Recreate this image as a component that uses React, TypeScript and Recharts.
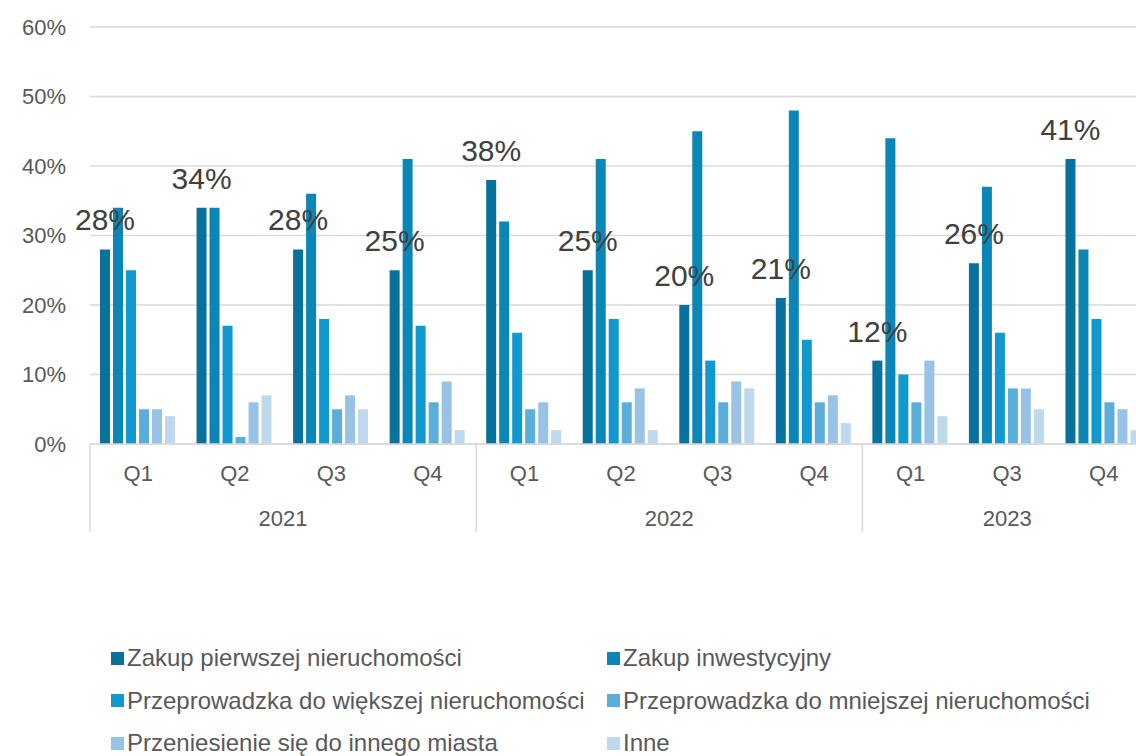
import { BarChart, Bar, XAxis, YAxis, CartesianGrid, LabelList } from "recharts";

const quarters = ["Q1", "Q2", "Q3", "Q4", "Q1", "Q2", "Q3", "Q4", "Q1", "Q3", "Q4"];
const years = ["2021", "2021", "2021", "2021", "2022", "2022", "2022", "2022", "2023", "2023", "2023"];

const seriesNames = [
    "Zakup pierwszej nieruchomości",
    "Zakup inwestycyjny",
    "Przeprowadzka do większej nieruchomości",
    "Przeprowadzka do mniejszej nieruchomości",
    "Przeniesienie się do innego miasta",
    "Inne",
];
const firstHome = [28, 34, 28, 25, 38, 25, 20, 21, 12, 26, 41];
const investment = [34, 34, 36, 41, 32, 41, 45, 48, 44, 37, 28];
const bigger = [25, 17, 18, 17, 16, 18, 12, 15, 10, 16, 18];
const smaller = [5, 1, 5, 6, 5, 6, 6, 6, 6, 8, 6];
const otherCity = [5, 6, 7, 9, 6, 8, 9, 7, 12, 8, 5];
const other = [4, 7, 5, 2, 2, 2, 8, 3, 4, 5, 2];
const yTicks = [0, 10, 20, 30, 40, 50, 60];

const COLORS = ["#09729c", "#0c86b6", "#1199cf", "#5badda", "#99c3e4", "#bed8ec"];
const KEYS = ["s1", "s2", "s3", "s4", "s5", "s6"];

const data = quarters.map((q, i) => ({
    i,
    q,
    year: years[i],
    s1: firstHome[i],
    s2: investment[i],
    s3: bigger[i],
    s4: smaller[i],
    s5: otherCity[i],
    s6: other[i],
}));

const FONT = "'Liberation Sans', Arial, sans-serif";
const CHART_W = 1162;
const LEFT = 90;
const RIGHT_M = 10;
const BAND = (CHART_W - LEFT - RIGHT_M) / quarters.length;
const PLOT_BOTTOM = 444;

function YearTick(props: any) {
    const { x, payload } = props;
    const i = Number(payload.value);
    if (i > 0 && years[i] === years[i - 1]) return null;
    let end = i;
    while (end + 1 < years.length && years[end + 1] === years[i]) end++;
    const centerX = x + ((i + end) / 2 - i) * BAND;
    const lineX = x - BAND / 2;
    return (
        <g>
            <line x1={lineX} x2={lineX} y1={PLOT_BOTTOM} y2={532} stroke="#d9d9d9" strokeWidth={1.5} />
            <text x={centerX} y={526} textAnchor="middle" fill="#595959" fontSize={22} fontFamily={FONT}>
                {years[i]}
            </text>
        </g>
    );
}

export default function App() {
    return (
        <div style={{ position: "fixed", left: 0, top: 0, width: 1136, height: 756, overflow: "hidden", background: "#fff" }}>
            <BarChart
                width={CHART_W}
                height={756}
                data={data}
                margin={{ top: 27, right: RIGHT_M, bottom: 224, left: 0 }}
                barCategoryGap={10}
                barGap={3}
            >
                <CartesianGrid vertical={false} stroke="#d9d9d9" strokeWidth={1.5} />
                <YAxis
                    width={LEFT}
                    domain={[0, 60]}
                    ticks={yTicks}
                    tickFormatter={(v) => `${v}%`}
                    axisLine={false}
                    tickLine={false}
                    tickSize={0}
                    tickMargin={24}
                    tick={{ fill: "#595959", fontSize: 22, fontFamily: FONT }}
                />
                <XAxis
                    dataKey="q"
                    height={44}
                    axisLine={{ stroke: "#d9d9d9", strokeWidth: 1.5 }}
                    tickLine={false}
                    tickSize={0}
                    tickMargin={21}
                    interval={0}
                    tick={{ fill: "#595959", fontSize: 22, fontFamily: FONT }}
                />
                <XAxis
                    xAxisId="year"
                    dataKey="i"
                    height={44}
                    axisLine={false}
                    tickLine={false}
                    interval={0}
                    tick={<YearTick />}
                />
                {KEYS.map((k, idx) => (
                    <Bar key={k} dataKey={k} name={seriesNames[idx]} fill={COLORS[idx]} isAnimationActive={false}>
                        {idx === 0 && (
                            <LabelList
                                dataKey={k}
                                position="top"
                                offset={19}
                                formatter={(v: any) => `${v}%`}
                                style={{ fill: "#404040", fontSize: 30, fontFamily: FONT }}
                            />
                        )}
                    </Bar>
                ))}
            </BarChart>
            {seriesNames.map((name, idx) => (
                <div
                    key={name}
                    style={{
                        position: "absolute",
                        left: idx % 2 === 0 ? 111 : 607,
                        top: 645 + Math.floor(idx / 2) * 42.5,
                        height: 26,
                        display: "flex",
                        alignItems: "center",
                        fontFamily: FONT,
                        fontSize: 24,
                        color: "#595959",
                        whiteSpace: "nowrap",
                    }}
                >
                    <span style={{ width: 13, height: 13, background: COLORS[idx], marginRight: 3, display: "inline-block" }} />
                    {name}
                </div>
            ))}
        </div>
    );
}
